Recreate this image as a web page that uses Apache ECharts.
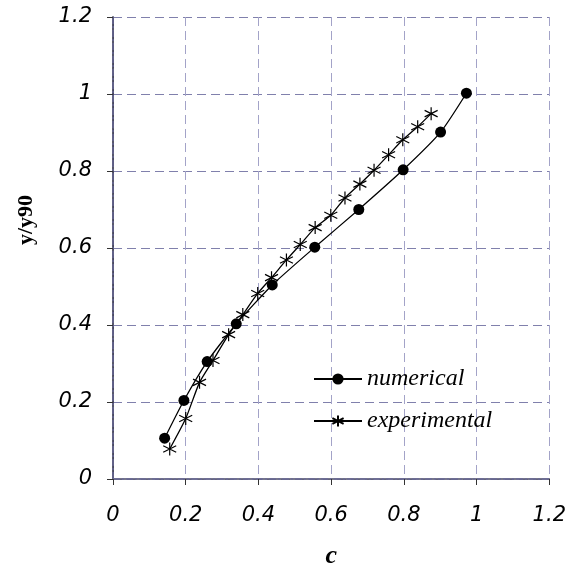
<!DOCTYPE html>
<html><head><meta charset="utf-8">
<script src="https://cdn.jsdelivr.net/npm/echarts@6/dist/echarts.min.js"></script>
<style>html,body{margin:0;padding:0;background:#fff}#c{width:569px;height:574px}</style>
</head><body><div id="c"></div>
<script>
const numericalX = [0.142, 0.195, 0.259, 0.339, 0.438, 0.555, 0.676, 0.798, 0.901, 0.972];
const numericalY = [0.106, 0.204, 0.305, 0.403, 0.504, 0.602, 0.700, 0.803, 0.901, 1.002];
const experimentalX = [0.156, 0.200, 0.238, 0.275, 0.318, 0.357, 0.398, 0.436, 0.477, 0.515, 0.556, 0.599, 0.638, 0.679, 0.718, 0.758, 0.797, 0.838, 0.875];
const experimentalY = [0.078, 0.157, 0.251, 0.308, 0.375, 0.427, 0.482, 0.523, 0.569, 0.609, 0.653, 0.685, 0.730, 0.766, 0.802, 0.842, 0.881, 0.915, 0.949];
const seriesNames = ['numerical', 'experimental'];
const xAxisName = 'c';
const yAxisName = 'y/y90';

const star = 'path://M0,-10L0,10M-8.66,-5L8.66,5M-8.66,5L8.66,-5';
const chart = echarts.init(document.getElementById('c'), null, {renderer: 'canvas'});
const tickFont = {fontFamily: 'DejaVu Sans', fontStyle: 'italic', fontSize: 21, color: '#000'};
const frame = {show: true, lineStyle: {color: '#6a6a9c', width: 1.5, type: [7, 2, 2, 2]}};
chart.setOption({
  animation: false,
  grid: {left: 113, right: 19, top: 17, bottom: 87, containLabel: false},
  legend: {
    orient: 'vertical', left: 308, top: 362, itemWidth: 48, itemHeight: 14, itemGap: 18,
    data: seriesNames,
    textStyle: {fontFamily: 'Liberation Serif', fontStyle: 'italic', fontSize: 24, color: '#000'}
  },
  xAxis: [{
    type: 'value', min: 0, max: 1.2, interval: 0.2, position: 'bottom',
    name: xAxisName, nameLocation: 'middle', nameGap: 64,
    nameTextStyle: {fontFamily: 'Liberation Serif', fontStyle: 'italic', fontWeight: 'bold', fontSize: 26, color: '#000'},
    axisLine: {show: true, onZero: false, lineStyle: {color: '#555', width: 1.5}},
    axisTick: {show: true, length: 6, lineStyle: {color: '#333'}},
    axisLabel: Object.assign({margin: 26, formatter: v => String(+v.toFixed(1))}, tickFont),
    splitLine: {show: true, lineStyle: {color: '#a3a3c8', type: [9, 5], width: 1}}
  }, {
    type: 'value', min: 0, max: 1.2, position: 'top',
    axisLine: frame, axisTick: {show: false}, axisLabel: {show: false}, splitLine: {show: false}
  }],
  yAxis: [{
    type: 'value', min: 0, max: 1.2, interval: 0.2, position: 'left',
    name: yAxisName, nameLocation: 'middle', nameGap: 76, nameRotate: 90,
    nameTextStyle: {fontFamily: 'Liberation Serif', fontWeight: 'bold', fontSize: 22, color: '#000', padding: [0, 0, 0, 56]},
    axisLine: {show: true, onZero: false, lineStyle: {color: '#111', width: 1.5}},
    axisTick: {show: true, length: 6, lineStyle: {color: '#333'}},
    axisLabel: Object.assign({margin: 21, formatter: v => String(+v.toFixed(1))}, tickFont),
    splitLine: {show: true, lineStyle: {color: '#8080ac', type: [9, 5], width: 1}}
  }, {
    type: 'value', min: 0, max: 1.2, position: 'right',
    axisLine: frame, axisTick: {show: false}, axisLabel: {show: false}, splitLine: {show: false}
  }],
  series: [{
    name: seriesNames[0], type: 'line', smooth: 0.2,
    data: numericalX.map((x, i) => [x, numericalY[i]]),
    symbol: 'circle', symbolSize: 11, showSymbol: true,
    lineStyle: {color: '#000', width: 1.3},
    itemStyle: {color: '#000'}
  }, {
    name: seriesNames[1], type: 'line', smooth: 0.2,
    data: experimentalX.map((x, i) => [x, experimentalY[i]]),
    symbol: star, symbolSize: 13, showSymbol: true,
    lineStyle: {color: '#000', width: 1.3},
    itemStyle: {color: 'none', borderColor: '#000', borderWidth: 1.2}
  }]
});
</script></body></html>
